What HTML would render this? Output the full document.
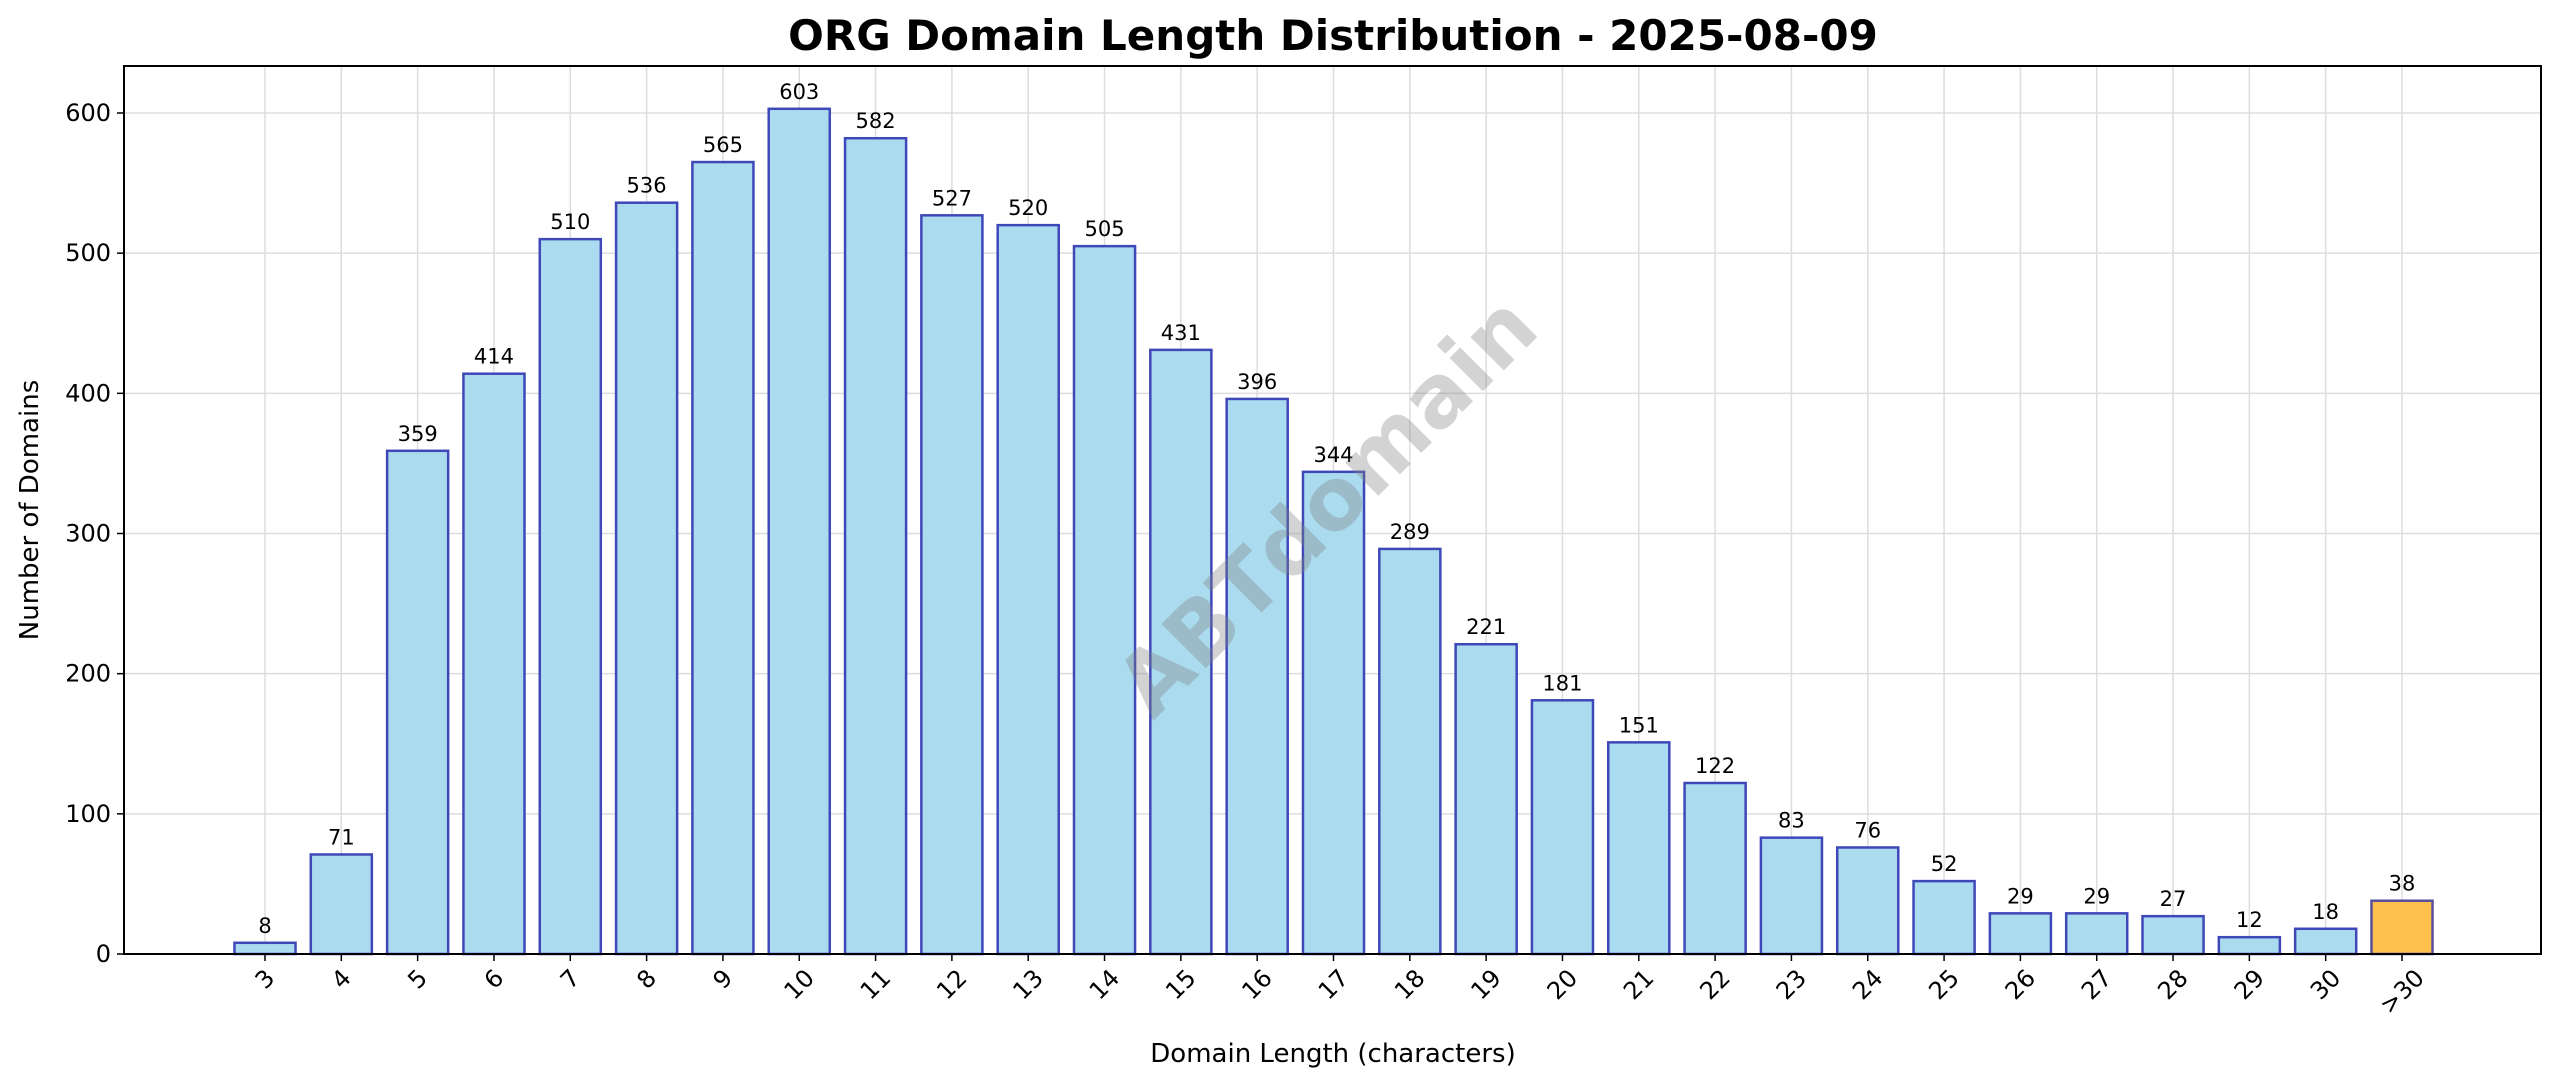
<!DOCTYPE html>
<html><head><meta charset="utf-8"><style>
body{margin:0;background:#fff}
svg{display:block;font-family:"DejaVu Sans","Liberation Sans",sans-serif}
</style></head><body>
<svg id="chart" width="2560" height="1087" viewBox="0 0 2560 1087" xmlns="http://www.w3.org/2000/svg">
<rect width="2560" height="1087" fill="#fff"/>
<text x="1333" y="50" text-anchor="middle" font-size="42" font-weight="bold">ORG Domain Length Distribution - 2025-08-09</text>
<g id="grid"></g>
<g id="bars"></g>
<g id="labels"></g>
<text x="1331" y="510" text-anchor="middle" dominant-baseline="middle" font-size="86" font-weight="bold" fill="#808080" fill-opacity="0.35" transform="rotate(-45 1331 510)">ABTdomain</text>
<rect x="124" y="66" width="2417" height="888" fill="none" stroke="#000" stroke-width="2"/>
<g id="ticks"></g>
<text x="1333" y="1062" text-anchor="middle" font-size="26">Domain Length (characters)</text>
<text x="38" y="510" text-anchor="middle" font-size="26" transform="rotate(-90 38 510)">Number of Domains</text>
</svg>
<script>
const categories = ["3","4","5","6","7","8","9","10","11","12","13","14","15","16","17","18","19","20","21","22","23","24","25","26","27","28","29","30",">30"];
const counts = [8,71,359,414,510,536,565,603,582,527,520,505,431,396,344,289,221,181,151,122,83,76,52,29,29,27,12,18,38];
const yTicks = [0,100,200,300,400,500,600];
const NS="http://www.w3.org/2000/svg";
const L=124,R=2541,T=66,B=954;
const x0=265, step=(2402-265)/(categories.length-1), bw=step*0.8;
const xs=i=>x0+i*step;
const ys=v=>B-v*(B-113)/600;
function mk(tag,attrs,parent,text){const e=document.createElementNS(NS,tag);for(const k in attrs)e.setAttribute(k,attrs[k]);if(text!==undefined)e.textContent=text;document.getElementById(parent).appendChild(e);return e;}
yTicks.forEach(v=>{
  const g=mk('line',{x1:L,x2:R,y1:ys(v),y2:ys(v),stroke:'#ddd','stroke-width':1.5},'grid');
  
  
  const t=mk('line',{x1:L-7,x2:L,y1:ys(v),y2:ys(v),stroke:'#000','stroke-width':1.5},'ticks');
  
  
  const l=mk('text',{x:L-13,y:ys(v),'text-anchor':'end','dominant-baseline':'central','font-size':24},'ticks',String(v));
  
  
});
categories.forEach((c,i)=>{
  const x=xs(i);
  const g=mk('line',{x1:x,x2:x,y1:T,y2:B,stroke:'#ddd','stroke-width':1.5},'grid');
  
  
  const last=c===">30";
  const b=mk('rect',{x:x-bw/2,y:ys(counts[i]),width:bw,height:B-ys(counts[i]),fill:last?'#ffc04d':'#abdbef',stroke:last?'#5a4f9a':'#3f48b8','stroke-width':2.5},'bars');
  
  
  const v=mk('text',{x:x,y:ys(counts[i])-10,'text-anchor':'middle','font-size':21},'labels',String(counts[i]));
  
  
  const t=mk('line',{x1:x,x2:x,y1:B,y2:B+7,stroke:'#000','stroke-width':1.5},'ticks');
  
  
  const lbl=mk('text',{'text-anchor':'middle','dominant-baseline':'central','font-size':24},'ticks',c);
  
  
  const w=lbl.getComputedTextLength()||14*c.length;
  const half=(w+22)*0.7071/2;
  const cy=B+12+half;
  lbl.setAttribute('x',x);lbl.setAttribute('y',cy);
  lbl.setAttribute('transform','rotate(-45 '+x+' '+cy+')');
});
</script>
</body></html>
